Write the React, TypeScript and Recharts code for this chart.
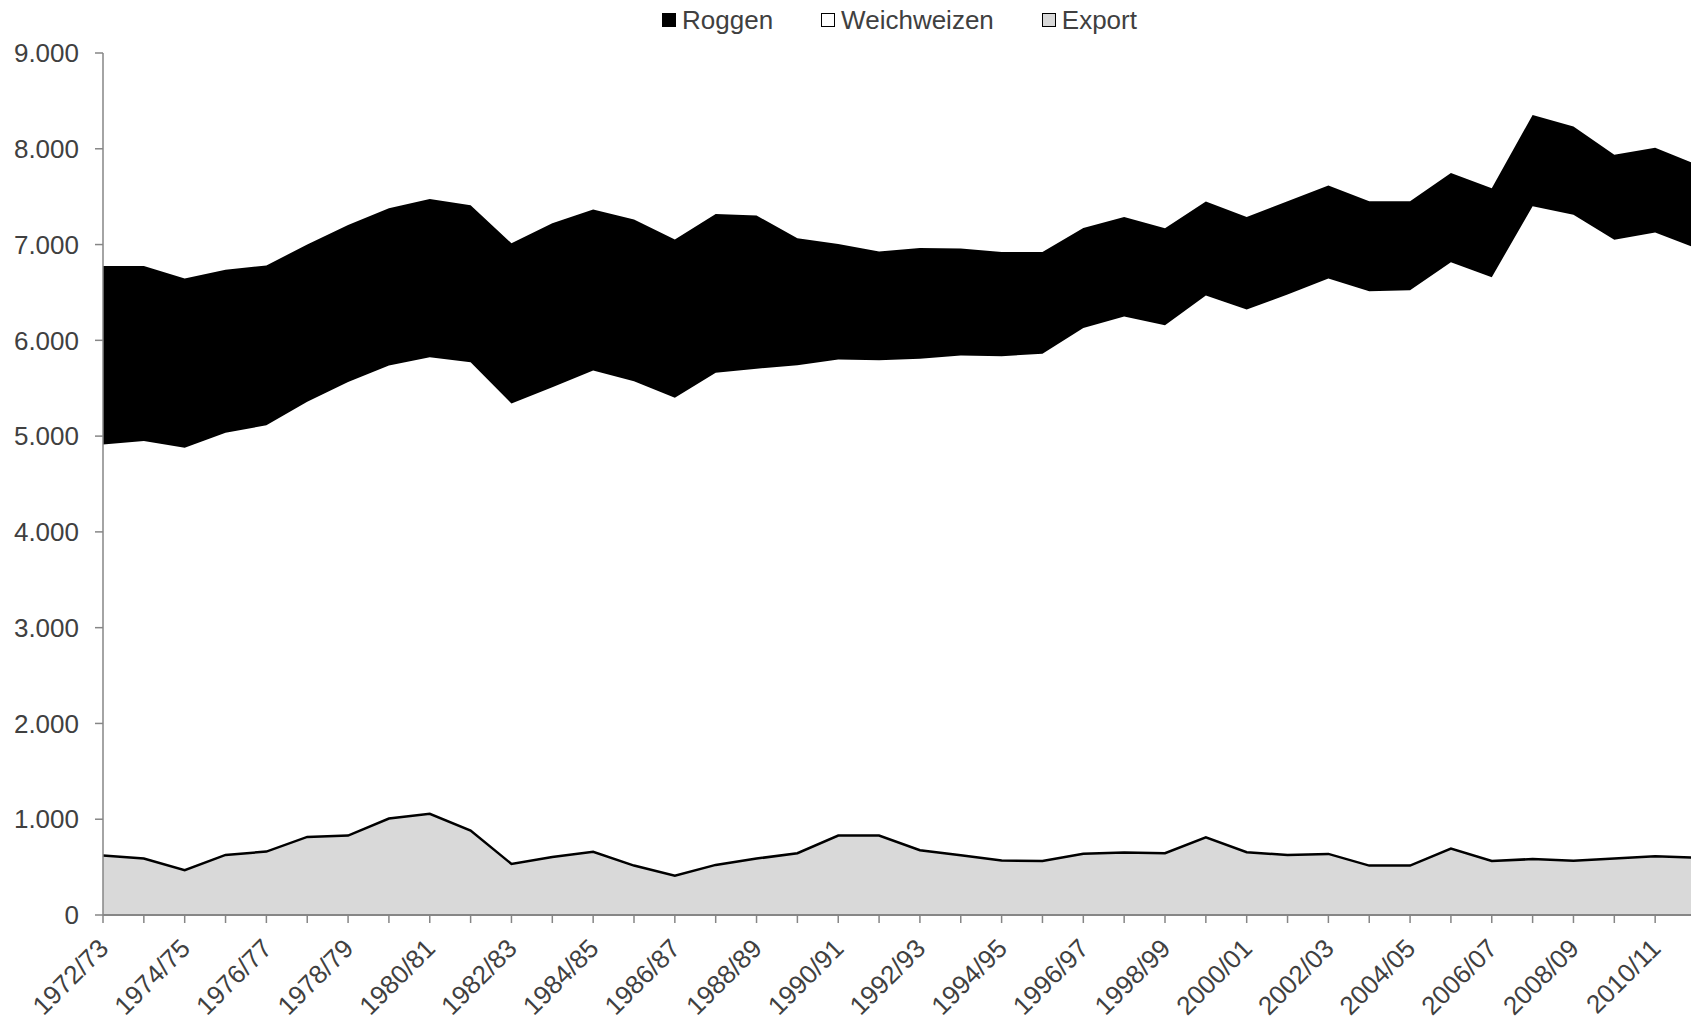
import React from "react";
import { AreaChart, Area, XAxis, YAxis, Legend } from "recharts";

// Wirtschaftsjahre (Kategorien der x-Achse)
const years = [
  "1972/73", "1973/74", "1974/75", "1975/76", "1976/77", "1977/78", "1978/79", "1979/80",
  "1980/81", "1981/82", "1982/83", "1983/84", "1984/85", "1985/86", "1986/87", "1987/88",
  "1988/89", "1989/90", "1990/91", "1991/92", "1992/93", "1993/94", "1994/95", "1995/96",
  "1996/97", "1997/98", "1998/99", "1999/00", "2000/01", "2001/02", "2002/03", "2003/04",
  "2004/05", "2005/06", "2006/07", "2007/08", "2008/09", "2009/10", "2010/11", "2011/12",
];

const roggen = [
  6775, 6775, 6645, 6738, 6782, 7000, 7204, 7380, 7475, 7410, 7013, 7222, 7365, 7261, 7052, 7320,
  7303, 7066, 7007, 6927, 6965, 6958, 6923, 6923, 7174, 7289, 7170, 7449, 7289, 7452, 7616, 7452,
  7452, 7748, 7588, 8353, 8233, 7938, 8012, 7839,
];

const weichweizen = [
  4913, 4948, 4878, 5035, 5113, 5360, 5565, 5737, 5824, 5772, 5341, 5510, 5685, 5574, 5400, 5661,
  5703, 5741, 5800, 5793, 5807, 5842, 5835, 5859, 6128, 6249, 6158, 6468, 6322, 6478, 6645, 6513,
  6523, 6816, 6659, 7400, 7311, 7050, 7127, 6962,
];

const exportMenge = [
  620, 589, 467, 627, 662, 815, 829, 1007, 1056, 882, 533, 605, 659, 516, 411, 523,
  589, 645, 829, 829, 676, 624, 568, 564, 640, 652, 645, 812, 655, 627, 638, 516,
  516, 693, 564, 584, 566, 590, 613, 598,
];

const yTicks = [0, 1000, 2000, 3000, 4000, 5000, 6000, 7000, 8000, 9000];

const data = years.map((year, i) => ({
  year,
  roggen: roggen[i],
  weichweizen: weichweizen[i],
  export: exportMenge[i],
}));

const FONT = "'Liberation Sans', Arial, sans-serif";
const TEXT = "#404040";
const AXIS = "#868686";

const fmt = (v: number) => v.toString().replace(/\B(?=(\d{3})+(?!\d))/g, ".");

const XTick = (props: any) => {
  const { x, y, index, payload } = props;
  if (index % 2 !== 0) return null;
  const ax = x + 7;
  const ay = y + 27;
  return (
    <text
      x={ax}
      y={ay}
      transform={`rotate(-45, ${ax}, ${ay})`}
      textAnchor="end"
      fontSize={26}
      fontFamily={FONT}
      fill={TEXT}
    >
      {payload.value}
    </text>
  );
};

const legendItems = [
  { label: "Roggen", fill: "#000000", border: "#000000" },
  { label: "Weichweizen", fill: "#ffffff", border: "#000000" },
  { label: "Export", fill: "#d9d9d9", border: "#000000" },
];

const LegendBox = () => (
  <div
    style={{
      height: 53,
      display: "flex",
      justifyContent: "center",
      alignItems: "flex-start",
      fontFamily: FONT,
      fontSize: 26,
      color: TEXT,
    }}
  >
    {legendItems.map((item, i) => (
      <div
        key={item.label}
        style={{ display: "flex", alignItems: "center", marginLeft: i === 0 ? 0 : 48, height: 40 }}
      >
        <span
          style={{
            display: "inline-block",
            width: 12,
            height: 12,
            background: item.fill,
            border: `1.5px solid ${item.border}`,
            marginRight: 6,
          }}
        />
        <span>{item.label}</span>
      </div>
    ))}
  </div>
);

export default function App() {
  return (
    <div
      style={{
        position: "absolute",
        left: 0,
        top: 0,
        width: 1691,
        height: 1021,
        overflow: "hidden",
        background: "#ffffff",
      }}
    >
      <AreaChart
        width={1720}
        height={1021}
        data={data}
        margin={{ top: 0, right: 24, bottom: 0, left: 0 }}
      >
        <Legend
          verticalAlign="top"
          align="center"
          content={() => <LegendBox />}
          wrapperStyle={{ left: 103, width: 1593, top: 0 }}
        />
        <XAxis
          dataKey="year"
          interval={0}
          height={106}
          tickSize={8}
          tickMargin={0}
          axisLine={{ stroke: AXIS, strokeWidth: 2 }}
          tickLine={{ stroke: AXIS, strokeWidth: 1.5 }}
          tick={<XTick />}
        />
        <YAxis
          domain={[0, 9000]}
          ticks={yTicks}
          width={103}
          tickSize={8}
          tickMargin={16}
          tickFormatter={fmt}
          axisLine={{ stroke: AXIS, strokeWidth: 1.5 }}
          tickLine={{ stroke: AXIS, strokeWidth: 1.5 }}
          tick={{ fill: TEXT, fontSize: 26, fontFamily: FONT }}
        />
        <Area
          type="linear"
          dataKey="roggen"
          name="Roggen"
          fill="#000000"
          fillOpacity={1}
          stroke="none"
          isAnimationActive={false}
        />
        <Area
          type="linear"
          dataKey="weichweizen"
          name="Weichweizen"
          fill="#ffffff"
          fillOpacity={1}
          stroke="none"
          isAnimationActive={false}
        />
        <Area
          type="linear"
          dataKey="export"
          name="Export"
          fill="#d9d9d9"
          fillOpacity={1}
          stroke="#000000"
          strokeWidth={2.5}
          isAnimationActive={false}
        />
      </AreaChart>
    </div>
  );
}
